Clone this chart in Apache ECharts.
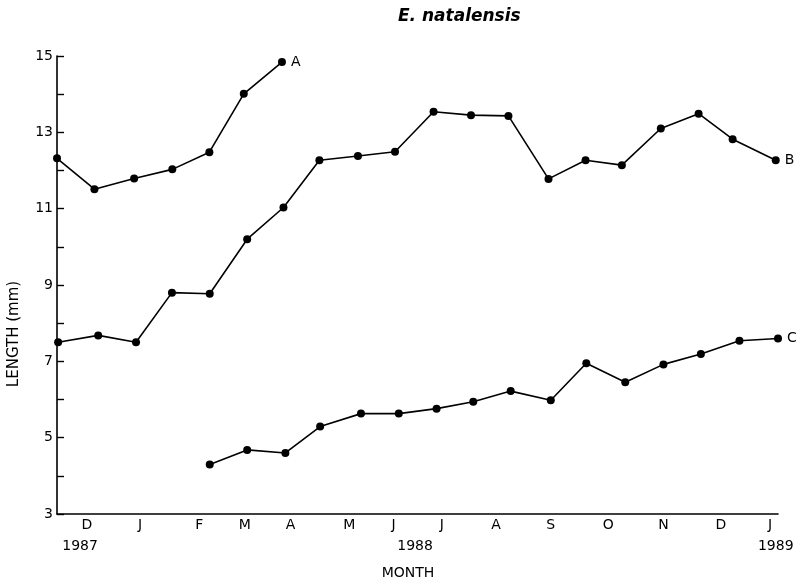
<!DOCTYPE html>
<html>
<head>
<meta charset="utf-8">
<script src="https://cdn.jsdelivr.net/npm/echarts@6/dist/echarts.min.js"></script>
<style>html,body{margin:0;padding:0;background:#fff}#c{width:800px;height:582px}</style>
</head>
<body>
<div id="c"></div>
<script>
// x values: sampling position along the time axis (arbitrary units)
const seriesA_x = [0.00, 0.99, 2.04, 3.05, 4.03, 4.94, 5.95];
const seriesA_y = [12.32, 11.51, 11.79, 12.03, 12.48, 14.01, 14.84];
const seriesB_x = [0.03, 1.09, 2.09, 3.04, 4.04, 5.03, 5.99, 6.94, 7.96, 8.94, 9.96, 10.95, 11.94, 13.00, 13.98, 14.94, 15.97, 16.97, 17.87, 19.01];
const seriesB_y = [7.50, 7.68, 7.50, 8.80, 8.77, 10.20, 11.03, 12.27, 12.38, 12.49, 13.54, 13.45, 13.43, 11.78, 12.27, 12.14, 13.10, 13.49, 12.82, 12.27];
const seriesC_x = [4.04, 5.03, 6.04, 6.96, 8.04, 9.04, 10.04, 11.01, 12.00, 13.06, 14.00, 15.03, 16.04, 17.03, 18.05, 19.07];
const seriesC_y = [4.30, 4.68, 4.60, 5.29, 5.63, 5.63, 5.76, 5.94, 6.22, 5.98, 6.95, 6.45, 6.92, 7.19, 7.54, 7.60];
const seriesNames = ['A', 'B', 'C'];
const monthPos = [0.79, 2.20, 3.76, 4.97, 6.18, 7.73, 8.90, 10.18, 11.61, 13.06, 14.58, 16.04, 17.56, 18.86];
const monthText = ['D', 'J', 'F', 'M', 'A', 'M', 'J', 'J', 'A', 'S', 'O', 'N', 'D', 'J'];
const yearPos = [0.61, 9.47, 19.01];
const yearText = ['1987', '1988', '1989'];
const yTickLabels = [3, 5, 7, 9, 11, 13, 15];

const FONT = '"DejaVu Sans", "Liberation Sans", Arial, sans-serif';
function lookup(pos, txt) {
  return function (v) {
    for (let i = 0; i < pos.length; i++) if (Math.abs(pos[i] - v) < 1e-6) return txt[i];
    return '';
  };
}
function pairs(xs, ys) { return xs.map((x, i) => [x, ys[i]]); }

const chart = echarts.init(document.getElementById('c'), null, { renderer: 'canvas' });
const mk = (name, xs, ys) => ({
  type: 'line',
  name: name,
  data: pairs(xs, ys),
  xAxisIndex: 0,
  symbol: 'circle',
  symbolSize: 8,
  showAllSymbol: true,
  lineStyle: { color: '#000', width: 1.6 },
  itemStyle: { color: '#000' },
  endLabel: { show: true, formatter: name, color: '#000', fontFamily: FONT, fontSize: 14, distance: 9 },
  animation: false,
  emphasis: { disabled: true }
});

chart.setOption({
  backgroundColor: '#fff',
  animation: false,
  title: {
    text: 'E. natalensis',
    left: 393, top: 3,
    textStyle: { fontFamily: FONT, fontSize: 17, fontWeight: 'bold', fontStyle: 'italic', color: '#000' }
  },
  grid: { left: 57, top: 56, width: 721, bottom: 68, containLabel: false, outerBoundsMode: 'none' },
  xAxis: [{
    type: 'value', min: 0, max: 19.07,
    axisLine: { show: true, onZero: false, lineStyle: { color: '#000', width: 1.6 } },
    axisTick: { show: false },
    splitLine: { show: false },
    axisLabel: {
      customValues: monthPos,
      formatter: lookup(monthPos, monthText),
      color: '#000', fontFamily: FONT, fontSize: 14, margin: 4,
      showMinLabel: true, showMaxLabel: true
    }
  }, {
    type: 'value', min: 0, max: 19.07, position: 'bottom',
    axisLine: { show: false },
    axisTick: { show: false },
    splitLine: { show: false },
    axisLabel: {
      customValues: yearPos,
      formatter: lookup(yearPos, yearText),
      color: '#000', fontFamily: FONT, fontSize: 14, margin: 25,
      showMinLabel: true, showMaxLabel: true
    }
  }],
  yAxis: {
    type: 'value', min: 3, max: 15, interval: 1,
    axisLine: { show: true, lineStyle: { color: '#000', width: 1.6 } },
    axisTick: { show: true, inside: true, length: 7, lineStyle: { color: '#000', width: 1.4 } },
    splitLine: { show: false },
    axisLabel: {
      color: '#000', fontFamily: FONT, fontSize: 14, margin: 4,
      formatter: v => (yTickLabels.indexOf(v) >= 0 ? String(v) : '')
    }
  },
  graphic: [{
    type: 'text', x: 408, y: 573,
    style: { text: 'MONTH', fill: '#000', font: '14px ' + FONT, align: 'center', verticalAlign: 'middle' }
  }, {
    type: 'text', x: 14, y: 334, rotation: Math.PI / 2,
    style: { text: 'LENGTH (mm)', fill: '#000', font: '15px ' + FONT, align: 'center', verticalAlign: 'middle' }
  }],
  series: [
    mk(seriesNames[0], seriesA_x, seriesA_y),
    mk(seriesNames[1], seriesB_x, seriesB_y),
    mk(seriesNames[2], seriesC_x, seriesC_y)
  ]
});
</script>
</body>
</html>
